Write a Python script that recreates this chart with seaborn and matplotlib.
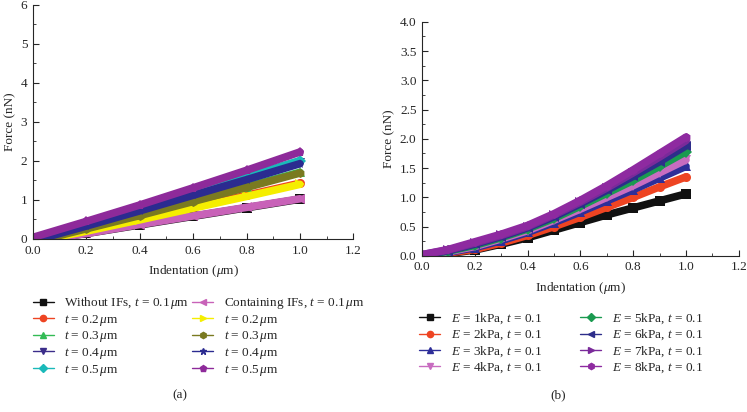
import matplotlib
matplotlib.use("Agg")
import matplotlib.pyplot as plt
import seaborn as sns
from matplotlib.lines import Line2D
from matplotlib.ticker import MultipleLocator

sns.set_style("ticks")
plt.rcParams["font.family"] = ["Liberation Serif", "DejaVu Serif"]
plt.rcParams["mathtext.fontset"] = "custom"
plt.rcParams["mathtext.rm"] = "Liberation Serif"
plt.rcParams["mathtext.it"] = "Liberation Serif:italic"

# ---- panel (a): with / without IFs, linear curves ----
x_a = [0.0, 0.2, 0.4, 0.6, 0.8, 1.0]
without_01 = [-0.06, 0.14, 0.36, 0.58, 0.80, 1.02]
without_02 = [-0.08, 0.21, 0.50, 0.81, 1.12, 1.43]
without_03 = [-0.08, 0.27, 0.62, 0.98, 1.34, 1.71]
without_04 = [-0.05, 0.34, 0.73, 1.13, 1.54, 1.95]
without_05 = [-0.02, 0.38, 0.78, 1.19, 1.60, 2.01]
contain_01 = [-0.06, 0.14, 0.37, 0.59, 0.81, 1.03]
contain_02 = [-0.08, 0.20, 0.49, 0.79, 1.09, 1.40]
contain_03 = [-0.08, 0.26, 0.60, 0.96, 1.32, 1.69]
contain_04 = [-0.05, 0.33, 0.72, 1.12, 1.52, 1.93]
contain_05 = [0.04, 0.45, 0.87, 1.31, 1.76, 2.23]

labels_a = [
    r"Without IFs, $t$ = 0.1$\,\mu$m",
    r"$t$ = 0.2$\,\mu$m", r"$t$ = 0.3$\,\mu$m", r"$t$ = 0.4$\,\mu$m", r"$t$ = 0.5$\,\mu$m",
    r"Containing IFs, $t$ = 0.1$\,\mu$m",
    r"$t$ = 0.2$\,\mu$m", r"$t$ = 0.3$\,\mu$m", r"$t$ = 0.4$\,\mu$m", r"$t$ = 0.5$\,\mu$m",
]
series_a = [without_01, without_02, without_03, without_04, without_05,
            contain_01, contain_02, contain_03, contain_04, contain_05]
colors_a = ["#111111", "#ee4422", "#33bb55", "#3b2d8a", "#1ab9b9",
            "#c862b8", "#f5ee00", "#7a7a20", "#2b2b90", "#8e2a9a"]
markers_a = ["s", "o", "^", "v", "D", "<", ">", "h", "*", "p"]

# ---- panel (b): stiffness E, curved ----
x_b = [0.0, 0.1, 0.2, 0.3, 0.4, 0.5, 0.6, 0.7, 0.8, 0.9, 1.0]
e1 = [0.00, 0.04, 0.10, 0.20, 0.31, 0.44, 0.57, 0.70, 0.82, 0.94, 1.06]
e2 = [0.00, 0.05, 0.11, 0.22, 0.35, 0.50, 0.66, 0.83, 1.00, 1.18, 1.35]
e3 = [0.00, 0.06, 0.14, 0.26, 0.40, 0.57, 0.75, 0.94, 1.13, 1.33, 1.53]
e4 = [0.00, 0.07, 0.16, 0.29, 0.43, 0.61, 0.80, 1.00, 1.20, 1.42, 1.64]
e5 = [0.01, 0.08, 0.18, 0.31, 0.46, 0.64, 0.85, 1.07, 1.29, 1.53, 1.78]
e6 = [0.01, 0.09, 0.20, 0.33, 0.48, 0.67, 0.89, 1.12, 1.36, 1.61, 1.88]
e7 = [0.02, 0.10, 0.22, 0.35, 0.50, 0.70, 0.92, 1.16, 1.42, 1.69, 1.97]
e8 = [0.02, 0.11, 0.24, 0.37, 0.52, 0.72, 0.95, 1.20, 1.47, 1.75, 2.03]

labels_b = [rf"$E$ = {k}kPa, $t$ = 0.1" for k in range(1, 9)]
series_b = [e1, e2, e3, e4, e5, e6, e7, e8]
colors_b = ["#111111", "#ee4422", "#2e2e99", "#c86cc0",
            "#1a9a50", "#2d2d8a", "#7a2a9a", "#8e2aa0"]
markers_b = ["s", "o", "^", "v", "D", "<", ">", "h"]

fig = plt.figure(figsize=(7.47, 4.12), dpi=100)
ax_a = fig.add_axes([0.044, 0.42, 0.429, 0.568])
ax_b = fig.add_axes([0.565, 0.379, 0.424, 0.568])


def draw(ax, x, series, colors, markers):
    for y, c, m in zip(series, colors, markers):
        sns.lineplot(x=x, y=y, ax=ax, color=c, lw=5.5, marker=m, ms=6.5,
                     mec=c, mew=0, solid_capstyle="round", clip_on=True)


def style_axis(ax, ymax, ymajor, yminor, yfmt):
    ax.set_xlim(0, 1.2)
    ax.set_ylim(0, ymax)
    ax.xaxis.set_major_locator(MultipleLocator(0.2))
    ax.xaxis.set_minor_locator(MultipleLocator(0.1))
    ax.yaxis.set_major_locator(MultipleLocator(ymajor))
    ax.yaxis.set_minor_locator(MultipleLocator(yminor))
    ax.xaxis.set_major_formatter(lambda v, p: f"{v:.1f}")
    ax.yaxis.set_major_formatter(lambda v, p: yfmt.format(v))
    ax.tick_params(which="major", direction="in", length=4, width=0.8, labelsize=9.5)
    ax.tick_params(axis="x", which="major", pad=4)
    ax.tick_params(axis="y", which="major", pad=4)
    ax.tick_params(which="minor", direction="in", length=2, width=0.6)
    for s in ["top", "right"]:
        ax.spines[s].set_visible(False)
    for s in ["left", "bottom"]:
        ax.spines[s].set_linewidth(0.8)
    ax.set_xlabel(r"Indentation ($\mu$m)", fontsize=9.5, labelpad=5)
    ax.set_ylabel("Force (nN)", fontsize=9.5, labelpad=3)


draw(ax_a, x_a, series_a, colors_a, markers_a)
draw(ax_b, x_b, series_b, colors_b, markers_b)
style_axis(ax_a, 6, 1, 0.5, "{:.0f}")
style_axis(ax_b, 4.0, 0.5, 0.25, "{:.1f}")


def handles(colors, markers):
    return [Line2D([], [], color=c, marker=m, lw=1, ms=4.5, mec=c) for c, m in zip(colors, markers)]


fig.legend(handles(colors_a, markers_a), labels_a, ncol=2, loc="upper left",
           bbox_to_anchor=(0.028, 0.312), frameon=False, fontsize=9.5,
           handlelength=1.6, handletextpad=0.8, columnspacing=0.2, labelspacing=0.12)
fig.legend(handles(colors_b, markers_b), labels_b, ncol=2, loc="upper left",
           bbox_to_anchor=(0.545, 0.272), frameon=False, fontsize=9.5,
           handlelength=1.6, handletextpad=0.8, columnspacing=2.9, labelspacing=0.12)

fig.text(180 / 747, 1 - 395 / 412, "(a)", ha="center", va="center", fontsize=9.5)
fig.text(558 / 747, 1 - 395 / 412, "(b)", ha="center", va="center", fontsize=9.5)

fig.savefig("out.png", dpi=100)
